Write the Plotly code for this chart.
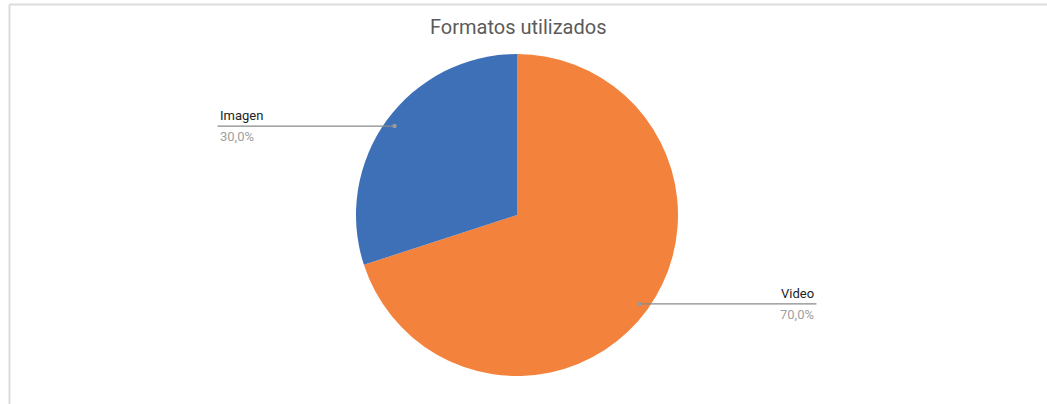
import math
import plotly.graph_objects as go

# ---- data ----
categories = ["Video", "Imagen"]
values = [70.0, 30.0]
pct_labels = ["70,0%", "30,0%"]
colors = ["#F3823D", "#3E70B8"]
title_text = "Formatos utilizados"

# ---- layout constants ----
W, H = 1047, 404
cx, cy, R = 517, 215, 161  # pie centre / radius in px
leader_r = 0.94
line_len = 177

def px(x):
    return x / W

def py(y):
    return 1 - y / H

fig = go.Figure(go.Pie(
    labels=categories,
    values=values,
    sort=False,
    direction="clockwise",
    rotation=0,
    marker=dict(colors=colors, line=dict(width=0)),
    textinfo="none",
    hoverinfo="none",
    showlegend=False,
    domain=dict(x=[px(cx - R), px(cx + R)], y=[py(cy + R), py(cy - R)]),
))

shapes = [
    dict(type="line", xref="paper", yref="paper", x0=px(9.5), x1=px(9.5), y0=py(4.5), y1=py(H + 5),
         line=dict(color="#dcdcdc", width=2)),
    dict(type="line", xref="paper", yref="paper", x0=px(9.5), x1=px(W + 5), y0=py(4.5), y1=py(4.5),
         line=dict(color="#dcdcdc", width=2)),
]
annotations = [
    dict(text=title_text, x=px(518), y=py(27), xref="paper", yref="paper", showarrow=False,
         font=dict(family="Roboto", size=20, color="#5b5b5b"), xanchor="center", yanchor="middle"),
]

total = sum(values)
cum = 0.0
for cat, v, pl in zip(categories, values, pct_labels):
    mid = (cum + v / 2) / total * 2 * math.pi  # clockwise from 12 o'clock
    cum += v
    dx, dy = math.sin(mid), -math.cos(mid)
    x0 = cx + leader_r * R * dx
    y0 = cy + leader_r * R * dy
    right = dx > 0
    x1 = x0 + line_len if right else x0 - line_len
    shapes.append(dict(type="line", xref="paper", yref="paper", x0=px(x0), x1=px(x1), y0=py(y0), y1=py(y0),
                       line=dict(color="#8a8a8a", width=1.3)))
    shapes.append(dict(type="circle", xref="paper", yref="paper", x0=px(x0 - 2.2), x1=px(x0 + 2.2),
                       y0=py(y0 + 2.2), y1=py(y0 - 2.2), fillcolor="#999999", line=dict(width=0)))
    anchor = "right" if right else "left"
    annotations.append(dict(text=cat, x=px(x1), y=py(y0 - 1), xref="paper", yref="paper", showarrow=False,
                            xanchor=anchor, yanchor="bottom",
                            font=dict(family="Roboto", size=13, color="#222222")))
    annotations.append(dict(text=pl, x=px(x1), y=py(y0 + 1), xref="paper", yref="paper", showarrow=False,
                            xanchor=anchor, yanchor="top",
                            font=dict(family="Roboto", size=13, color="#a0a0a0")))

fig.update_layout(
    width=W, height=H,
    margin=dict(l=0, r=0, t=0, b=0),
    paper_bgcolor="white",
    plot_bgcolor="white",
    shapes=shapes,
    annotations=annotations,
)

fig.write_html("out.html", config={"displayModeBar": False},
               post_script="document.body.style.margin='0';document.body.style.overflow='hidden';")
